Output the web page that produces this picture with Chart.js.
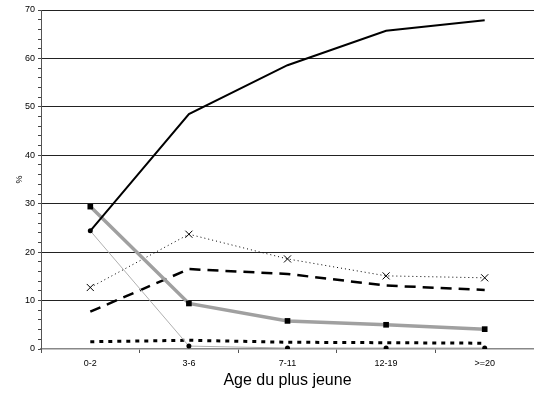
<!DOCTYPE html>
<html>
<head>
<meta charset="utf-8">
<script src="https://cdn.jsdelivr.net/npm/chart.js@4"></script>
<style>
  html, body { margin: 0; padding: 0; background: #fff; }
  #wrap { width: 534px; height: 397px; }
</style>
</head>
<body>
<div id="wrap"><canvas id="chart" width="534" height="397"></canvas></div>
<script>
const categories = ['0-2', '3-6', '7-11', '12-19', '>=20'];

const solidBlack = [24.4, 48.5, 58.6, 65.7, 67.9];
const graySquares = [29.4, 9.4, 5.8, 5.0, 4.1];
const thinGray = [24.4, 0.6, 0.2, 0.2, 0.2];
const dottedCross = [12.7, 23.7, 18.6, 15.1, 14.7];
const longDash = [7.7, 16.5, 15.5, 13.1, 12.2];
const shortDash = [1.5, 1.8, 1.4, 1.3, 1.2];

const yMin = 0;
const yMax = 70;

const tickFont = { family: '"Liberation Sans", Arial, sans-serif', size: 9 };

const ctx = document.getElementById('chart').getContext('2d');

new Chart(ctx, {
  type: 'line',
  data: {
    labels: categories,
    datasets: [
      {
        data: solidBlack,
        borderColor: '#000',
        borderWidth: 2,
        pointRadius: 0
      },
      {
        data: graySquares,
        borderColor: '#a0a0a0',
        borderWidth: 3.5,
        pointStyle: 'rect',
        pointRadius: 4,
        pointBackgroundColor: '#000',
        pointBorderColor: '#000',
        pointBorderWidth: 0
      },
      {
        data: thinGray,
        borderColor: '#b0b0b0',
        borderWidth: 1,
        pointStyle: 'circle',
        pointRadius: 2.5,
        pointBackgroundColor: '#000',
        pointBorderColor: '#000',
        pointBorderWidth: 0
      },
      {
        data: dottedCross,
        borderColor: '#000',
        borderWidth: 1,
        borderDash: [1, 3],
        pointStyle: 'crossRot',
        pointRadius: 5,
        pointBorderColor: '#000',
        pointBorderWidth: 1
      },
      {
        data: longDash,
        borderColor: '#000',
        borderWidth: 2.5,
        borderDash: [11, 7],
        pointRadius: 0
      },
      {
        data: shortDash,
        borderColor: '#000',
        borderWidth: 3,
        borderDash: [4, 5],
        pointRadius: 0
      }
    ]
  },
  options: {
    responsive: false,
    animation: false,
    events: [],
    layout: {
      autoPadding: false,
      padding: { top: 10, right: 0, left: 0, bottom: 0 }
    },
    plugins: {
      legend: { display: false },
      tooltip: { enabled: false }
    },
    scales: {
      x: {
        offset: true,
        grid: {
          offset: true,
          drawOnChartArea: false,
          drawTicks: true,
          tickLength: 4,
          tickColor: '#555'
        },
        border: { color: '#888', width: 1.5 },
        ticks: { font: tickFont, color: '#000', padding: 5 },
        title: {
          display: true,
          text: 'Age du plus jeune',
          color: '#000',
          font: { family: '"Liberation Sans", Arial, sans-serif', size: 16 },
          padding: { top: 0, bottom: 7 }
        },
        afterFit(scale) {
          scale.height = 48;
          scale.paddingLeft = 0;
          scale.paddingRight = 0;
        }
      },
      y: {
        min: yMin,
        max: yMax,
        grid: {
          color: c => (c.tick && c.tick.value % 10 === 0 && c.tick.value !== 0) ? '#222' : 'rgba(0,0,0,0)',
          lineWidth: 1,
          drawTicks: true,
          tickLength: 3,
          tickColor: '#444'
        },
        border: { color: '#555', width: 1 },
        ticks: {
          stepSize: 2,
          autoSkip: false,
          font: tickFont,
          color: '#000',
          padding: 3,
          callback: v => (v % 10 === 0 ? v : '')
        },
        title: {
          display: true,
          text: '%',
          color: '#000',
          font: { family: '"Liberation Sans", Arial, sans-serif', size: 9 },
          padding: { top: 14, bottom: 0 }
        },
        afterFit(scale) {
          scale.width = 41;
          scale.paddingTop = 0;
          scale.paddingBottom = 0;
        }
      }
    }
  }
});
</script>
</body>
</html>
